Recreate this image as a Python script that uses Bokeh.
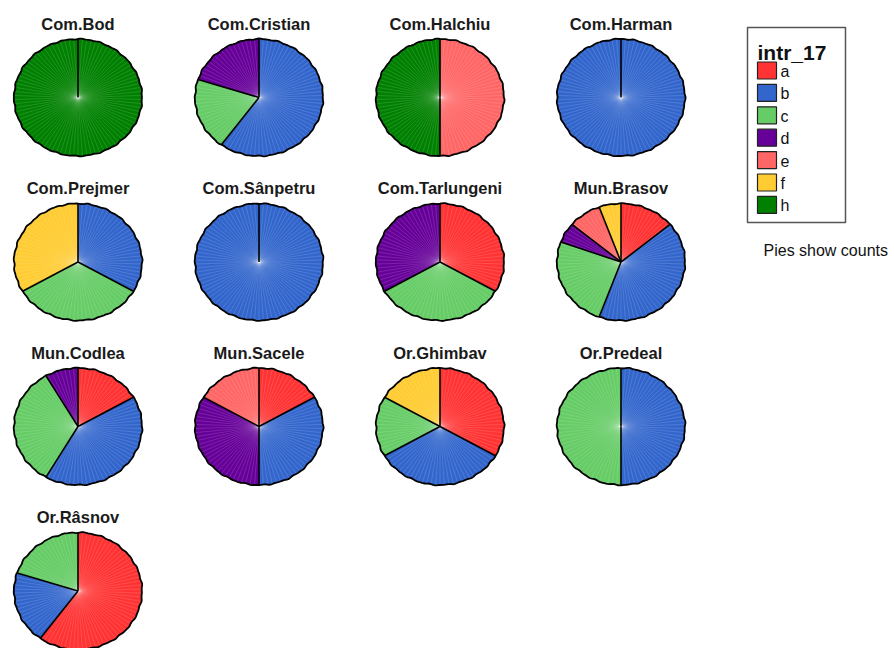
import numpy as np
from bokeh.plotting import figure
from bokeh.models import Range1d
from bokeh.core.properties import value
from bokeh.embed import file_html
from bokeh.resources import INLINE

# ---------------- data ----------------
areas = ["Com.Bod", "Com.Cristian", "Com.Halchiu", "Com.Harman",
         "Com.Prejmer", "Com.Sânpetru", "Com.Tarlungeni", "Mun.Brasov",
         "Mun.Codlea", "Mun.Sacele", "Or.Ghimbav", "Or.Predeal", "Or.Râsnov"]
categories = ["a", "b", "c", "d", "e", "f", "h"]
cat_colors = ["#FF3333", "#3366CC", "#66CC66", "#660099", "#FF6666", "#FFCC33", "#008000"]
count_a = [0, 0, 0, 0, 0, 0, 1, 5, 2, 1, 2, 0, 3]
count_b = [0, 3, 0, 1, 1, 1, 0, 15, 5, 2, 2, 1, 1]
count_c = [0, 1, 0, 0, 1, 0, 1, 9, 4, 0, 1, 1, 1]
count_d = [0, 1, 0, 0, 0, 0, 1, 2, 1, 2, 0, 0, 0]
count_e = [0, 0, 1, 0, 0, 0, 0, 3, 0, 1, 0, 0, 0]
count_f = [0, 0, 0, 0, 1, 0, 0, 2, 0, 0, 1, 0, 0]
count_h = [1, 0, 1, 0, 0, 0, 0, 0, 0, 0, 0, 0, 0]
legend_title = "intr_17"
note_text = "Pies show counts"

counts = np.array([count_a, count_b, count_c, count_d, count_e, count_f, count_h], dtype=float).T

# ---------------- layout ----------------
W, H = 892, 648
p = figure(width=W, height=H, x_range=Range1d(0, W), y_range=Range1d(H, 0),
           output_backend="svg", toolbar_location=None, min_border=0)
p.axis.visible = False
p.grid.visible = False
p.outline_line_color = None
p.background_fill_color = "white"

ncol = 4
col_x0, col_dx = 77.5, 181.0
row_y0, row_dy = 97.0, 164.5
rx, ry = 64.0, 58.5

FONT = value("Liberation Sans")

slice_xs, slice_ys, slice_col = [], [], []
tex_xs, tex_ys = [], []
bnd_xs, bnd_ys = [], []
out_xs, out_ys = [], []
t_x, t_y, t_text = [], [], []

for i, name in enumerate(areas):
    cx = col_x0 + (i % ncol) * col_dx
    cy = row_y0 + (i // ncol) * row_dy
    vals = counts[i]
    total = vals.sum()
    start = 0.0
    for k, v in enumerate(vals):
        if v <= 0:
            continue
        end = start + v / total * 2 * np.pi
        n = max(3, int((end - start) / (2 * np.pi) * 240))
        t = np.linspace(start, end, n)
        xs = [cx] + list(cx + rx * np.sin(t)) + [cx]
        ys = [cy] + list(cy - ry * np.cos(t)) + [cy]
        slice_xs.append(xs)
        slice_ys.append(ys)
        slice_col.append(cat_colors[k])
        bnd_xs.append([cx, cx + rx * np.sin(start)])
        bnd_ys.append([cy, cy - ry * np.cos(start)])
        start = end
    # light radial texture
    for t in np.arange(0, 2 * np.pi, np.deg2rad(4.0)):
        tex_xs.append([cx, cx + 0.99 * rx * np.sin(t)])
        tex_ys.append([cy, cy - 0.99 * ry * np.cos(t)])
    tt = np.linspace(0, 2 * np.pi, 241)
    wob = 1 + 0.006 * np.sin(tt * 23 + i) + 0.004 * np.sin(tt * 41 + 2 * i)
    out_xs.append(list(cx + rx * wob * np.sin(tt)))
    out_ys.append(list(cy - ry * wob * np.cos(tt)))
    t_x.append(cx)
    t_y.append(cy - 74)
    t_text.append(name)

p.patches(slice_xs, slice_ys, fill_color=slice_col, line_color=slice_col, line_width=0.5)
p.multi_line(tex_xs, tex_ys, line_color="white", line_alpha=0.2, line_width=0.7)
p.multi_line(bnd_xs, bnd_ys, line_color="black", line_width=1.6)
p.multi_line(out_xs, out_ys, line_color="black", line_width=1.8)

p.text(x=t_x, y=t_y, text=t_text, text_font=FONT, text_font_style="bold",
       text_font_size="16.5px", text_align="center", text_baseline="alphabetic", text_color="#1a1a1a")

# ---------------- legend ----------------
p.quad(left=[747], right=[845], top=[27], bottom=[222], fill_color="white",
       line_color="#555555", line_width=1.5)
p.text(x=[757], y=[52], text=[legend_title], text_font=FONT, text_font_style="bold",
       text_font_size="21px", text_baseline="alphabetic", text_color="#111111")
ly = [70 + 22.4 * k for k in range(len(categories))]
p.quad(left=[757] * len(ly), right=[776] * len(ly),
       top=[y - 8.5 for y in ly], bottom=[y + 8.5 for y in ly],
       fill_color=cat_colors, line_color="#222222", line_width=1.2)
p.text(x=[780] * len(ly), y=[y + 1 for y in ly], text=categories, text_font=FONT,
       text_font_size="16px", text_baseline="middle", text_color="#111111")
p.text(x=[763], y=[250], text=[note_text], text_font=FONT, text_font_size="16px",
       text_baseline="middle", text_color="#111111")

open("out.html", "w").write(file_html(p, INLINE))
